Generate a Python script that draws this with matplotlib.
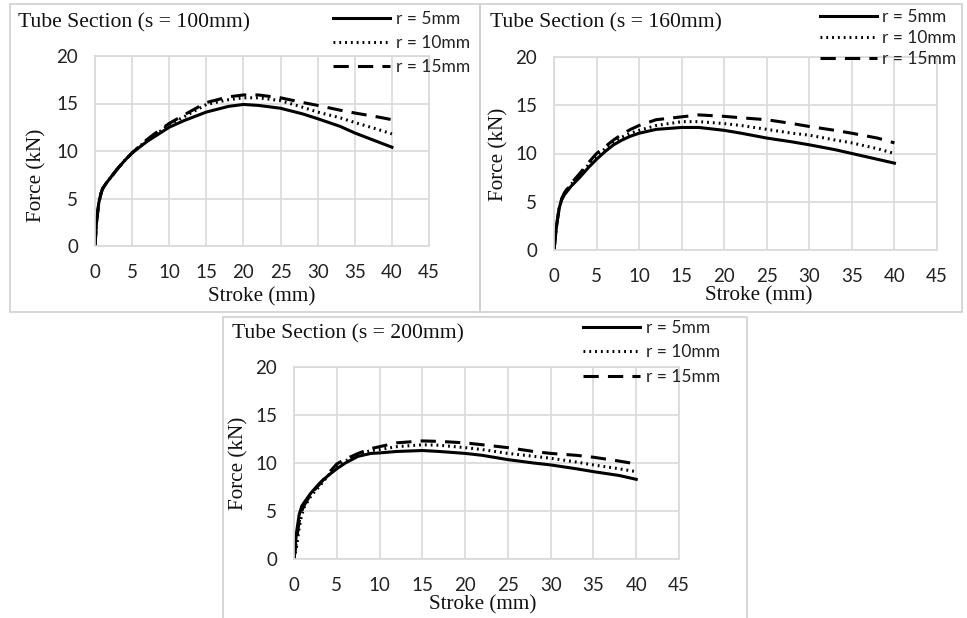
import matplotlib
matplotlib.use("Agg")
import matplotlib.pyplot as plt
from matplotlib.patches import Rectangle

# ---------------- data ----------------
titles = ["Tube Section (s = 100mm)", "Tube Section (s = 160mm)", "Tube Section (s = 200mm)"]
labels = ["r = 5mm", "r = 10mm", "r = 15mm"]
xticks = [0, 5, 10, 15, 20, 25, 30, 35, 40, 45]
yticks = [0, 5, 10, 15, 20]

# s = 100 mm
s100_x = [0, 0.2, 0.5, 0.8, 1, 1.5, 2, 3, 4, 5, 6, 7, 8, 10, 12, 15, 18, 20, 22, 25, 28, 30, 33, 35, 38, 40]
s100_r5 = [0, 2.5, 4.5, 5.5, 6.0, 6.6, 7.1, 8.1, 9.0, 9.8, 10.4, 11.0, 11.5, 12.5, 13.2, 14.1, 14.7, 14.9, 14.8, 14.5, 13.9, 13.4, 12.6, 11.9, 11.0, 10.4]
s100_r10 = [0, 2.5, 4.5, 5.5, 6.0, 6.6, 7.1, 8.1, 9.0, 9.8, 10.5, 11.1, 11.6, 12.8, 13.6, 14.9, 15.4, 15.6, 15.6, 15.3, 14.6, 14.1, 13.5, 13.0, 12.3, 11.8]
s100_r15 = [0, 2.5, 4.5, 5.5, 6.0, 6.6, 7.1, 8.1, 9.0, 9.8, 10.5, 11.2, 11.8, 12.9, 13.8, 15.1, 15.7, 15.9, 15.9, 15.6, 15.1, 14.8, 14.3, 14.0, 13.6, 13.3]

# s = 160 mm
s160_x = [0, 0.3, 0.6, 0.9, 1.2, 2, 3, 4, 5, 6, 7, 8, 9, 10, 12, 15, 17, 20, 22, 25, 28, 30, 33, 35, 38, 40]
s160_r5 = [0, 2.5, 4.3, 5.2, 5.7, 6.6, 7.5, 8.5, 9.4, 10.2, 10.9, 11.4, 11.8, 12.1, 12.5, 12.7, 12.7, 12.4, 12.1, 11.6, 11.2, 10.9, 10.4, 10.0, 9.4, 9.0]
s160_r10 = [0, 2.5, 4.3, 5.3, 5.8, 6.8, 7.7, 8.8, 9.7, 10.5, 11.2, 11.7, 12.1, 12.4, 12.9, 13.3, 13.3, 13.1, 12.9, 12.5, 12.1, 11.9, 11.4, 11.1, 10.5, 10.0]
s160_r15 = [0, 2.5, 4.3, 5.3, 5.9, 6.9, 7.9, 9.0, 10.0, 10.7, 11.4, 12.0, 12.5, 12.9, 13.5, 13.8, 14.0, 13.85, 13.7, 13.5, 13.1, 12.8, 12.4, 12.1, 11.6, 11.1]

# s = 200 mm
s200_x = [0, 0.3, 0.6, 0.9, 1.2, 2, 3, 4, 5, 6, 7.5, 9, 10, 12, 15, 17, 20, 22, 25, 28, 30, 33, 35, 38, 40]
s200_r5 = [0, 2.8, 4.6, 5.5, 5.9, 6.9, 7.9, 8.7, 9.4, 10.0, 10.7, 11.0, 11.05, 11.2, 11.3, 11.2, 11.0, 10.8, 10.35, 10.0, 9.8, 9.4, 9.1, 8.7, 8.3]
s200_r10 = [0, 1.3, 3.2, 4.6, 5.4, 6.6, 7.6, 8.7, 9.6, 10.2, 10.9, 11.3, 11.4, 11.7, 11.9, 11.85, 11.6, 11.4, 11.0, 10.7, 10.5, 10.1, 9.8, 9.4, 9.1]
s200_r15 = [0, 2.0, 3.9, 5.0, 5.6, 6.8, 7.8, 8.9, 9.9, 10.4, 11.0, 11.5, 11.7, 12.1, 12.3, 12.25, 12.1, 11.9, 11.6, 11.2, 11.0, 10.8, 10.6, 10.2, 9.9]

panels = [
    (s100_x, [s100_r5, s100_r10, s100_r15]),
    (s160_x, [s160_r5, s160_r10, s160_r15]),
    (s200_x, [s200_r5, s200_r10, s200_r15]),
]

# ---------------- layout (pixels) ----------------
W, H = 967, 618
fig = plt.figure(figsize=(W / 100, H / 100), dpi=100)

def fx(px):
    return px / W

def fy(py):
    return 1 - py / H

# axes boxes: left, right, top, bottom in px
ax_px = [(95, 429, 56, 246), (554, 937, 57, 250), (294, 679, 367, 559)]
# panel frames: x0, y0, x1, y1 in px
frame_px = [(10, 4, 480, 312), (480, 4, 962, 312), (223, 317, 747, 622)]
title_px = [(18, 23), (490, 23), (232, 334)]
xlabel_px = [(262, 297), (759, 296), (483, 605)]
ylabel_px = [(37, 175), (499, 154), (239, 463)]
legend_px = [(333, 11, 25.5), (820, 9, 22.5), (583, 320, 26)]

serif = "Liberation Serif"
sans = "Lato"
grid_c = "#d9d9d9"

for (x0, y0, x1, y1) in frame_px:
    fig.patches.append(Rectangle((fx(x0), fy(y1)), fx(x1) - fx(x0), fy(y0) - fy(y1),
                                 transform=fig.transFigure, fill=False,
                                 edgecolor="#d0d0d0", linewidth=1.2, zorder=0))

styles = [dict(linestyle="-"), dict(linestyle=(0, (0.6, 1.3))), dict(linestyle=(0, (5, 3)))]

for i, (xs, series) in enumerate(panels):
    l, r, t, b = ax_px[i]
    ax = fig.add_axes([fx(l), fy(b), fx(r) - fx(l), fy(t) - fy(b)])
    for ys, st, lab in zip(series, styles, labels):
        ax.plot(xs, ys, color="black", linewidth=2.2, label=lab, **st)
    ax.set_xlim(0, 45)
    ax.set_ylim(0, 20)
    ax.set_xticks(xticks)
    ax.set_yticks(yticks)
    ax.set_xticklabels([str(v) for v in xticks], fontfamily=sans, fontsize=13.5)
    ax.set_yticklabels([str(v) for v in yticks], fontfamily=sans, fontsize=13.5)
    ax.tick_params(length=0, pad=12, colors="#222222")
    ax.tick_params(axis="x", pad=13)
    ax.grid(True, color=grid_c, linewidth=1.2)
    ax.set_axisbelow(True)
    for sp in ax.spines.values():
        sp.set_color(grid_c)
        sp.set_linewidth(1.2)

    tx, ty = title_px[i]
    fig.text(fx(tx), fy(ty), titles[i], fontfamily=serif, fontsize=15.6,
             ha="left", va="center", color="#111111")
    xx, xy = xlabel_px[i]
    fig.text(fx(xx), fy(xy), "Stroke (mm)", fontfamily=serif, fontsize=15.2,
             ha="center", va="center", color="#111111")
    yx, yy = ylabel_px[i]
    fig.text(fx(yx), fy(yy), "Force (kN)", fontfamily=serif, fontsize=15.2,
             ha="center", va="center", rotation=90, color="#111111")

    lx, ly, sp_ = legend_px[i]
    leg = ax.legend(loc="upper left", bbox_to_anchor=(fx(lx), fy(ly)),
                    bbox_transform=fig.transFigure, frameon=False,
                    prop={"family": sans, "size": 12.5}, handlelength=3.3,
                    handletextpad=0.3, labelspacing=(sp_ - 17.5) / 17.4,
                    borderpad=0, borderaxespad=0)
    for txt in leg.get_texts():
        txt.set_color("#222222")

fig.savefig("out.png", dpi=100)
